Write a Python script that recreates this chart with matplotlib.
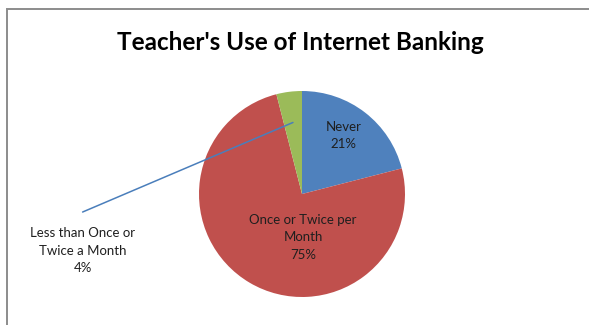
import textwrap
import numpy as np
import matplotlib
matplotlib.use("Agg")
from matplotlib import pyplot as plt
from matplotlib.patches import Rectangle

# Teacher's use of internet banking, share of respondents (%)
categories = ["Never", "Once or Twice per Month", "Less than Once or Twice a Month"]
shares = [21, 75, 4]
colors = ["#4F81BD", "#C0504D", "#9BBB59"]

plt.rcParams["font.family"] = ["Lato", "DejaVu Sans"]

W, H, DPI = 589, 325, 100
fig = plt.figure(figsize=(W / DPI, H / DPI), dpi=DPI)
fig.patch.set_facecolor("white")

# chart frame: only the left and top edges fall inside the image
fig.patches.append(Rectangle((7 / W, -0.05), 1.2, (H - 9) / H + 0.05,
                             transform=fig.transFigure, fill=False,
                             edgecolor="#8c8c8c", linewidth=1.4))

# axes spans the figure; one data unit = pie radius in pixels
r_px = 103
cx, cy = 302, 194  # pie centre, pixels from top-left
ax = fig.add_axes([0, 0, 1, 1])
ax.axis("off")

wedges, _ = ax.pie(shares, colors=colors, startangle=90, counterclock=False,
                   radius=1.0, wedgeprops=dict(linewidth=0))
ax.set_aspect("auto")
ax.set_xlim(-cx / r_px, (W - cx) / r_px)
ax.set_ylim(-(H - cy) / r_px, cy / r_px)

labels = [textwrap.fill(c, 17) + f"\n{s}%" for c, s in zip(categories, shares)]
label_pos = [(0.40, 0.57), (0.01, -0.42), (-2.13, -0.55)]
for lab, (x, y) in zip(labels, label_pos):
    ax.text(x, y, lab, ha="center", va="center", fontsize=9.5,
            color="#1f1f1f", linespacing=1.55)

# leader line from the small slice to its outside label
w = wedges[2]
mid = np.deg2rad((w.theta1 + w.theta2) / 2)
ax.plot([-2.13, 0.70 * np.cos(mid)], [-0.175, 0.70 * np.sin(mid)],
        color="#4a7ebb", linewidth=1.1, solid_capstyle="round")

fig.text(300.5 / W, 1 - 43 / H, "Teacher's Use of Internet Banking",
         ha="center", va="center", fontsize=17.5, fontweight="bold",
         color="black")

fig.savefig("out.png", dpi=DPI)
